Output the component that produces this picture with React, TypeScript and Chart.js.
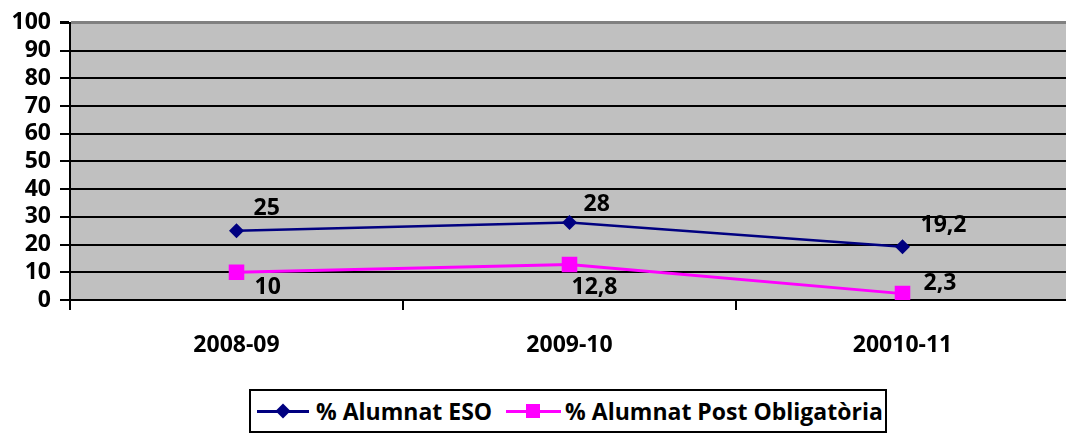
import React, { useEffect, useRef } from 'react';
import { Chart, registerables } from 'chart.js';

Chart.register(...registerables);

// ---- Data ----
const categories = ['2008-09', '2009-10', '20010-11'];
const esoValues = [25, 28, 19.2];
const postValues = [10, 12.8, 2.3];
const seriesNames = ['% Alumnat ESO', '% Alumnat Post Obligatòria'];
const yMin = 0;
const yMax = 100;
const yStep = 10;

// ---- Style ----
const FONT = '"Open Sans", Lato, sans-serif';
const FONT_SIZE = 23;
const ESO_COLOR = '#000080';
const POST_COLOR = '#ff00ff';
// data-label offsets (pixels, relative to each point), per series / per point
const labelOffsets = [
  [[17, -22], [14, -18], [18, -21]],
  [[18, 15], [2, 23], [21, -10]],
];

const fmt = (v: number) => String(v).replace('.', ',');

const bgPlugin = {
  id: 'plotBg',
  beforeDraw(chart: any) {
    const { ctx, chartArea } = chart;
    ctx.save();
    ctx.fillStyle = '#c0c0c0';
    ctx.fillRect(chartArea.left, chartArea.top, chartArea.right - chartArea.left, chartArea.bottom - chartArea.top);
    ctx.restore();
  },
};

const labelPlugin = {
  id: 'pointLabels',
  afterDatasetsDraw(chart: any) {
    const ctx = chart.ctx;
    ctx.save();
    ctx.font = `bold ${FONT_SIZE}px ${FONT}`;
    ctx.fillStyle = '#000';
    ctx.textAlign = 'left';
    ctx.textBaseline = 'middle';
    chart.data.datasets.forEach((ds: any, i: number) => {
      const meta = chart.getDatasetMeta(i);
      meta.data.forEach((pt: any, j: number) => {
        const [dx, dy] = labelOffsets[i][j];
        ctx.fillText(fmt(ds.data[j]), pt.x + dx, pt.y + dy);
      });
    });
    ctx.restore();
  },
};

export default function App() {
  const ref = useRef<HTMLCanvasElement | null>(null);

  useEffect(() => {
    if (!ref.current) return;
    const chart = new Chart(ref.current, {
      type: 'line',
      data: {
        labels: categories,
        datasets: [
          {
            label: seriesNames[0],
            data: esoValues,
            borderColor: ESO_COLOR,
            backgroundColor: ESO_COLOR,
            borderWidth: 2.5,
            pointStyle: 'rectRot',
            pointRadius: 7.5,
            pointBorderWidth: 0,
            tension: 0,
          },
          {
            label: seriesNames[1],
            data: postValues,
            borderColor: POST_COLOR,
            backgroundColor: POST_COLOR,
            borderWidth: 3,
            pointStyle: 'rect',
            pointRadius: 11,
            pointBorderWidth: 0,
            tension: 0,
          },
        ],
      },
      options: {
        responsive: false,
        animation: false,
        devicePixelRatio: 1,
        layout: { padding: { top: 21, left: 0, right: 0, bottom: 0 } },
        plugins: {
          legend: { display: false },
          tooltip: { enabled: false },
        },
        scales: {
          x: {
            offset: true,
            afterFit: (s: any) => { s.height = 80; },
            grid: {
              offset: true,
              drawOnChartArea: false,
              drawTicks: true,
              tickLength: 10,
              color: '#000',
              lineWidth: 2,
            },
            border: { color: '#000', width: 2 },
            ticks: {
              color: '#000',
              font: { family: FONT, size: FONT_SIZE, weight: 'bold' },
              padding: 22,
              maxRotation: 0,
              autoSkip: false,
            },
          },
          y: {
            min: yMin,
            max: yMax,
            afterFit: (s: any) => { s.width = 70; },
            grid: {
              color: (c: any) => (c.tick && c.tick.value === yMax ? '#808080' : '#000'),
              lineWidth: (c: any) => (c.tick && c.tick.value === yMax ? 3 : 2),
              tickColor: '#000',
              tickLength: 10,
              drawTicks: true,
            },
            border: { color: '#000', width: 2 },
            ticks: {
              stepSize: yStep,
              autoSkip: false,
              color: '#000',
              padding: 9,
              font: { family: FONT, size: FONT_SIZE, weight: 'bold' },
            },
          },
        },
      },
      plugins: [bgPlugin, labelPlugin],
    } as any);
    return () => chart.destroy();
  }, []);

  return (
    <div style={{ position: 'fixed', left: 0, top: 0, width: 1066, height: 436, overflow: 'hidden', background: '#fff' }}>
      <canvas ref={ref} width={1080} height={380} style={{ position: 'absolute', left: 0, top: 0 }} />
      <div
        style={{
          position: 'absolute',
          left: 249,
          top: 389,
          width: 638,
          height: 44,
          boxSizing: 'border-box',
          border: '2px solid #000',
          display: 'flex',
          alignItems: 'center',
          fontFamily: FONT,
          fontWeight: 'bold',
          fontSize: FONT_SIZE,
          color: '#000',
          whiteSpace: 'nowrap',
        }}
      >
        <div style={{ position: 'relative', width: 52, height: 20, marginLeft: 6 }}>
          <div style={{ position: 'absolute', left: 0, right: 0, top: 9, height: 2.5, background: ESO_COLOR }} />
          <div style={{ position: 'absolute', left: 19, top: 3, width: 14, height: 14, background: ESO_COLOR, transform: 'rotate(45deg) scale(0.76)' }} />
        </div>
        <span style={{ marginLeft: 7 }}>{seriesNames[0]}</span>
        <div style={{ position: 'relative', width: 55, height: 20, marginLeft: 14 }}>
          <div style={{ position: 'absolute', left: 0, right: 0, top: 8.5, height: 3, background: POST_COLOR }} />
          <div style={{ position: 'absolute', left: 20, top: 3, width: 14, height: 14, background: POST_COLOR }} />
        </div>
        <span style={{ marginLeft: 4 }}>{seriesNames[1]}</span>
      </div>
    </div>
  );
}
